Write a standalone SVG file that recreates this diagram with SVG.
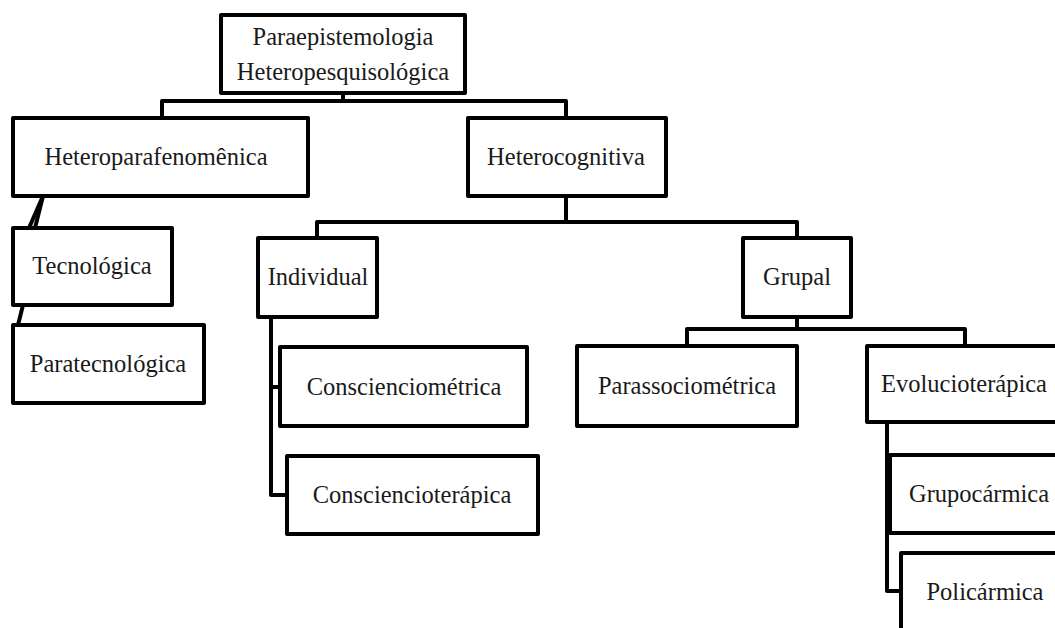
<svg xmlns="http://www.w3.org/2000/svg" width="1055" height="628" viewBox="0 0 1055 628">
<style>
.box{fill:#fff;stroke:#000;stroke-width:4;stroke-linejoin:round}
.lbl{font-family:"Liberation Serif","Times New Roman",serif;font-size:24.5px;fill:#1a1a1a;text-anchor:middle}
.con{fill:none;stroke:#000;stroke-width:4;stroke-linejoin:round}
</style>
<rect width="1055" height="628" fill="#fff"/>
<g id="connectors">
<polyline class="con" points="343,93 343,101 162,101 162,118"/>
<polyline class="con" points="343,101 566,101 566,118"/>
<line class="con" x1="43" y1="196" x2="29" y2="228"/>
<line class="con" x1="43" y1="196" x2="35" y2="228"/>
<line class="con" x1="23" y1="305" x2="18" y2="325"/>
<polyline class="con" points="566,196 566,222 317,222 317,238"/>
<polyline class="con" points="566,222 797,222 797,238"/>
<polyline class="con" points="271,317 271,495 287,495"/>
<line class="con" x1="271" y1="387" x2="280" y2="387"/>
<polyline class="con" points="797,317 797,329 687,329 687,346"/>
<polyline class="con" points="797,329 965,329 965,346"/>
<polyline class="con" points="887,422 887,591 901,591"/>
</g>
<g id="root"><rect class="box" x="221" y="15" width="244" height="78"/><text class="lbl" x="343" y="45">Paraepistemologia</text><text class="lbl" x="343" y="80">Heteropesquisológica</text></g>
<g id="heteroparafenomenica"><rect class="box" x="13" y="118" width="295" height="78"/><text class="lbl" x="156" y="165">Heteroparafenomênica</text></g>
<g id="heterocognitiva"><rect class="box" x="468" y="118" width="198" height="78"/><text class="lbl" x="566" y="165">Heterocognitiva</text></g>
<g id="tecnologica"><rect class="box" x="13" y="228" width="159" height="77"/><text class="lbl" x="92" y="274">Tecnológica</text></g>
<g id="paratecnologica"><rect class="box" x="13" y="325" width="191" height="78"/><text class="lbl" x="108" y="372">Paratecnológica</text></g>
<g id="individual"><rect class="box" x="258" y="238" width="119" height="79"/><text class="lbl" x="318" y="285">Individual</text></g>
<g id="grupal"><rect class="box" x="743" y="238" width="108" height="79"/><text class="lbl" x="797" y="285">Grupal</text></g>
<g id="conscienciometrica"><rect class="box" x="280" y="347" width="247" height="79"/><text class="lbl" x="404" y="395">Conscienciométrica</text></g>
<g id="consciencioterapica"><rect class="box" x="287" y="456" width="251" height="78"/><text class="lbl" x="412" y="503">Consciencioterápica</text></g>
<g id="parassociometrica"><rect class="box" x="577" y="346" width="220" height="80"/><text class="lbl" x="687" y="394">Parassociométrica</text></g>
<g id="evolucioterapica"><rect class="box" x="867" y="346" width="193" height="76"/><text class="lbl" x="964" y="392">Evolucioterápica</text></g>
<g id="grupocarmica"><rect class="box" x="890" y="455" width="178" height="78"/><text class="lbl" x="979" y="502">Grupocármica</text></g>
<g id="policarmica"><rect class="box" x="901" y="553" width="169" height="78"/><text class="lbl" x="985" y="600">Policármica</text></g>
</svg>
